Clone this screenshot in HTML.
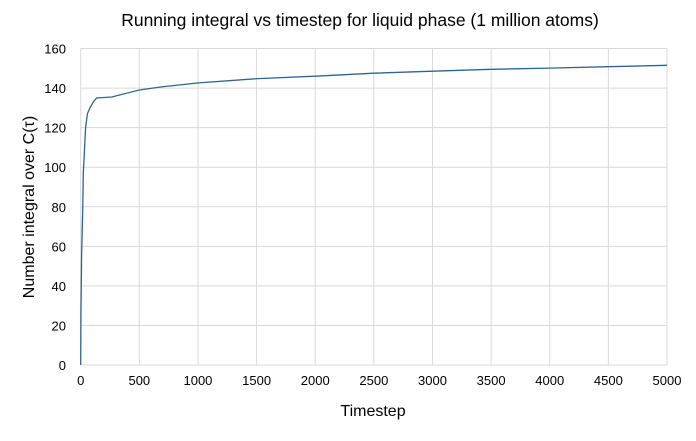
<!DOCTYPE html>
<html><head><meta charset="utf-8"><style>
body{margin:0;background:#fff;}
svg text{font-family:"Liberation Sans",sans-serif;fill:#000;}
</style></head><body>
<svg width="696" height="436">
<rect width="696" height="436" fill="#fff"/>
<text x="360" y="26" text-anchor="middle" font-size="17.5">Running integral vs timestep for liquid phase (1 million atoms)</text>
<g id="grid"></g><g id="axes"></g>
<path id="line" fill="none" stroke="#2e6494" stroke-width="1.3"/>
<text x="373" y="416" text-anchor="middle" font-size="16">Timestep</text>
<text transform="translate(34,207) rotate(-90)" text-anchor="middle" font-size="16">Number integral over C(τ)</text>
</svg>
<script>
const xTicks=[0,500,1000,1500,2000,2500,3000,3500,4000,4500,5000];
const yTicks=[0,20,40,60,80,100,120,140,160];
const timesteps=[0,2,8,17,22,37,42,57,79,108,136,264,500,690,1006,1510,2000,2500,3000,3500,4000,4500,5000];
const values=[0,24,55,78,97,114,120,127,130,133,135,135.5,139,140.6,142.6,144.8,146,147.5,148.5,149.5,150.1,150.8,151.5];
const X0=80.7,X1=667,Y0=365,Y1=48.5;
const sx=v=>X0+v/5000*(X1-X0), sy=v=>Y0-v/160*(Y0-Y1);
const ns="http://www.w3.org/2000/svg";
const grid=document.getElementById('grid'),axes=document.getElementById('axes');
function mk(tag,attrs,parent){const e=document.createElementNS(ns,tag);for(const k in attrs)e.setAttribute(k,attrs[k]);parent.appendChild(e);return e;}
xTicks.forEach(t=>{
 const l=mk('line',{x1:sx(t),x2:sx(t),y1:Y1,y2:Y0,stroke:'#d9d9d9'},grid);
 
 
 const tx=mk('text',{x:sx(t),y:Y0+20,'text-anchor':'middle','font-size':'13'},axes);
 tx.textContent=t;
 
 
});
yTicks.forEach(t=>{
 const l=mk('line',{x1:X0,x2:X1,y1:sy(t),y2:sy(t),stroke:'#d9d9d9'},grid);
 
 
 const tx=mk('text',{x:66,y:sy(t)+5,'text-anchor':'end','font-size':'13'},axes);
 tx.textContent=t;
 
 
});
document.getElementById('line').setAttribute('d',timesteps.map((t,i)=>(i?'L':'M')+sx(t).toFixed(1)+','+sy(values[i]).toFixed(1)).join(''));
</script>
</body></html>
